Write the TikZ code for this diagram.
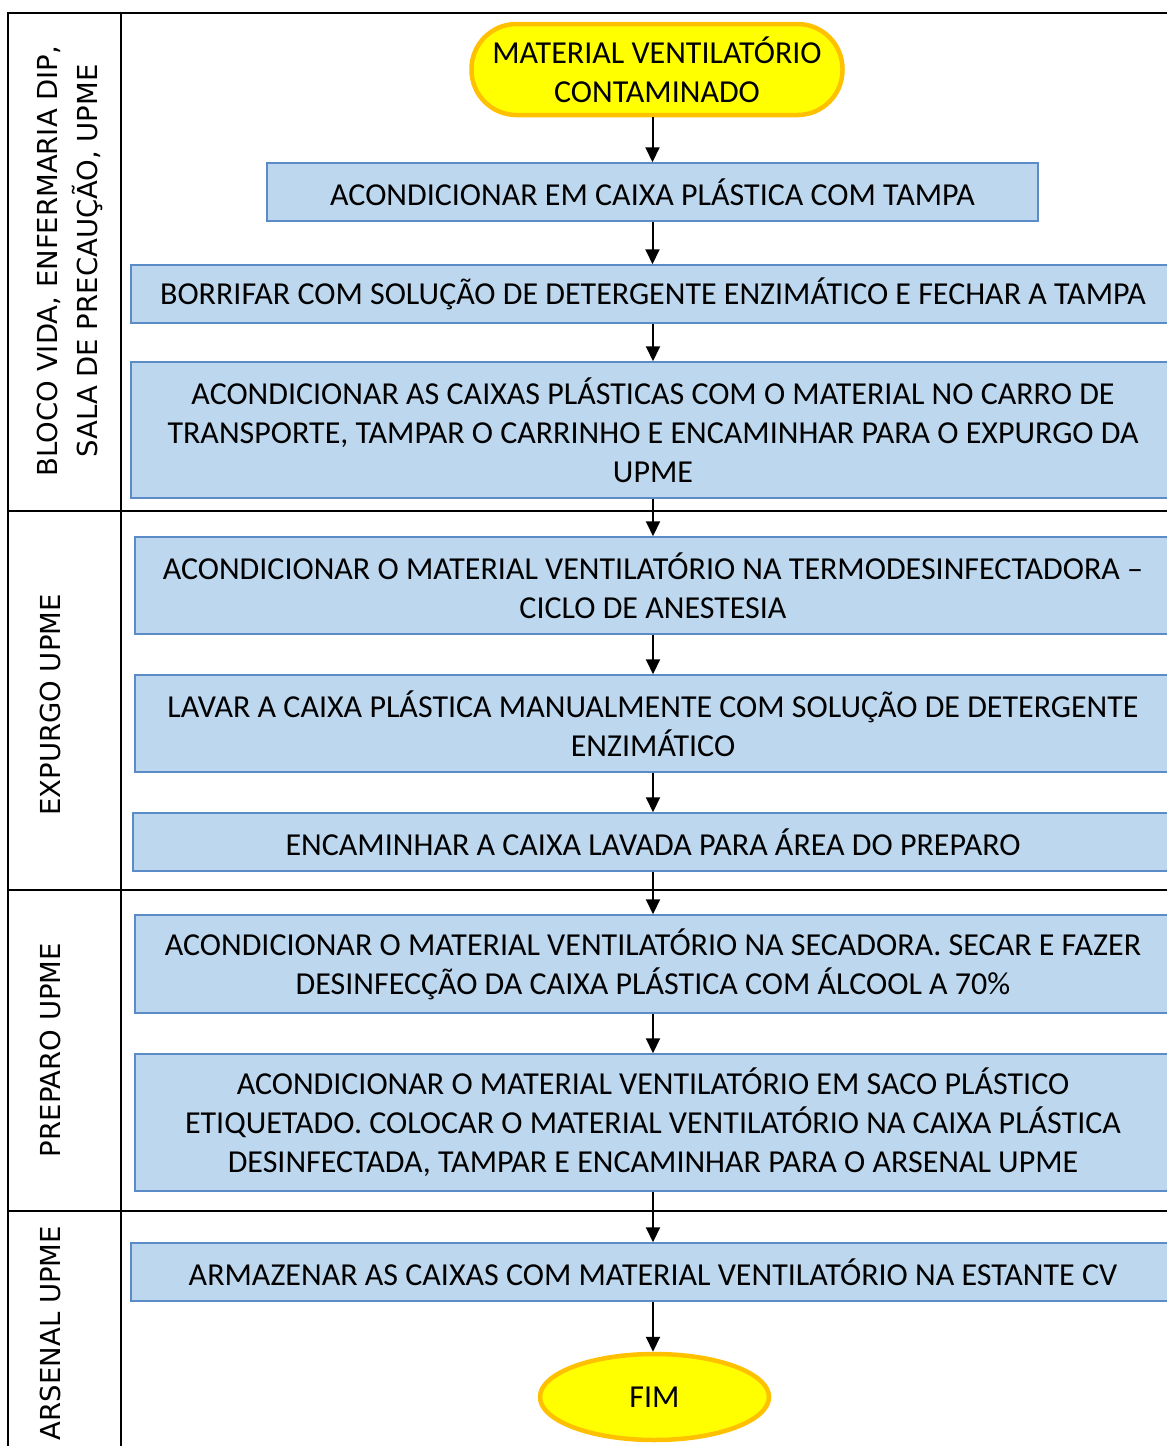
\documentclass[tikz,border=0pt]{standalone}
\usepackage{fontspec}
\setmainfont{Carlito}
\newfontfamily\lanefont{DejaVu Sans}
\usepackage{xcolor}
\usetikzlibrary{positioning,shapes.geometric,arrows.meta}

\definecolor{boxfill}{HTML}{BDD7EE}
\definecolor{boxline}{HTML}{5B8CC8}
\definecolor{termfill}{HTML}{FFFF00}
\definecolor{termline}{HTML}{FFC000}

\tikzset{
  stepbox/.style={draw=boxline, fill=boxfill, line width=1.5pt, align=center, inner sep=0pt,
    font=\fontsize{32}{39}\selectfont},
  terminal/.style={draw=termline, fill=termfill, line width=4.5pt, align=center, inner sep=0pt,
    font=\fontsize{32}{39}\selectfont},
  lanelabel/.style={rotate=90, align=center, inner sep=0pt, font=\lanefont\fontsize{27.5}{40}\selectfont},
  flow/.style={-{Triangle[length=15pt,width=14pt]}, line width=2pt},
  lane/.style={line width=2.5pt}
}

\begin{document}
\begin{tikzpicture}[x=1pt, y=-1pt]
\useasboundingbox (0,0) rectangle (1167,1446);

% swimlane frame
\draw[lane] (8,1450) -- (8,13) -- (1172,13);
\draw[lane] (121,13) -- (121,1450);
\draw[lane] (8,511) -- (1172,511);
\draw[lane] (8,890) -- (1172,890);
\draw[lane] (8,1211) -- (1172,1211);

\node[lanelabel] (bloco) at (70,261) {BLOCO VIDA, ENFERMARIA DIP,\\SALA DE PRECAUÇÃO, UPME};
\node[lanelabel] (expurgo) at (50,705) {EXPURGO UPME};
\node[lanelabel] (preparo) at (50,1050) {PREPARO UPME};
\node[lanelabel] (arsenal) at (50,1333) {ARSENAL UPME};

% steps
\node[terminal, rounded corners=45pt, minimum width=371pt, minimum height=91pt] (start) at (657,69.5)
  {MATERIAL VENTILATÓRIO\\CONTAMINADO};
\node[stepbox, minimum width=771pt, minimum height=58pt] (caixa) at (652.5,192)
  {ACONDICIONAR EM CAIXA PLÁSTICA COM TAMPA};
\node[stepbox, minimum width=1044pt, minimum height=58pt] (borrifar) at (653,294)
  {BORRIFAR COM SOLUÇÃO DE DETERGENTE ENZIMÁTICO E FECHAR A TAMPA};
\node[stepbox, minimum width=1044pt, minimum height=136pt] (carro) at (653,430)
  {ACONDICIONAR AS CAIXAS PLÁSTICAS COM O MATERIAL NO CARRO DE\\
   TRANSPORTE, TAMPAR O CARRINHO E ENCAMINHAR PARA O EXPURGO DA\\UPME};
\node[stepbox, minimum width=1036pt, minimum height=97pt] (termo) at (653,585.5)
  {ACONDICIONAR O MATERIAL VENTILATÓRIO NA TERMODESINFECTADORA –\\CICLO DE ANESTESIA};
\node[stepbox, minimum width=1036pt, minimum height=97pt] (lavar) at (653,723.5)
  {LAVAR A CAIXA PLÁSTICA MANUALMENTE COM SOLUÇÃO DE DETERGENTE\\ENZIMÁTICO};
\node[stepbox, minimum width=1040pt, minimum height=58pt] (encaminhar) at (653,842)
  {ENCAMINHAR A CAIXA LAVADA PARA ÁREA DO PREPARO};
\node[stepbox, minimum width=1036pt, minimum height=98pt] (secar) at (653,964)
  {ACONDICIONAR O MATERIAL VENTILATÓRIO NA SECADORA. SECAR E FAZER\\
   DESINFECÇÃO DA CAIXA PLÁSTICA COM ÁLCOOL A 70\%};
\node[stepbox, minimum width=1036pt, minimum height=137pt] (saco) at (653,1122.5)
  {ACONDICIONAR O MATERIAL VENTILATÓRIO EM SACO PLÁSTICO\\
   ETIQUETADO. COLOCAR O MATERIAL VENTILATÓRIO NA CAIXA PLÁSTICA\\
   DESINFECTADA, TAMPAR E ENCAMINHAR PARA O ARSENAL UPME};
\node[stepbox, minimum width=1044pt, minimum height=58pt] (armazenar) at (653,1272)
  {ARMAZENAR AS CAIXAS COM MATERIAL VENTILATÓRIO NA ESTANTE CV};
\node[terminal, ellipse, minimum width=229pt, minimum height=86pt] (fim) at (654.5,1397) {FIM};

% arrows
\draw[flow] (start.south -| caixa.north) -- (caixa.north);
\draw[flow] (caixa.south) -- (caixa.south |- borrifar.north);
\draw[flow] (borrifar.south) -- (borrifar.south |- carro.north);
\draw[flow] (carro.south) -- (carro.south |- termo.north);
\draw[flow] (termo.south) -- (termo.south |- lavar.north);
\draw[flow] (lavar.south) -- (lavar.south |- encaminhar.north);
\draw[flow] (encaminhar.south) -- (encaminhar.south |- secar.north);
\draw[flow] (secar.south) -- (secar.south |- saco.north);
\draw[flow] (saco.south) -- (saco.south |- armazenar.north);
\draw[flow] (armazenar.south) -- (armazenar.south |- fim.north);
\end{tikzpicture}
\end{document}
